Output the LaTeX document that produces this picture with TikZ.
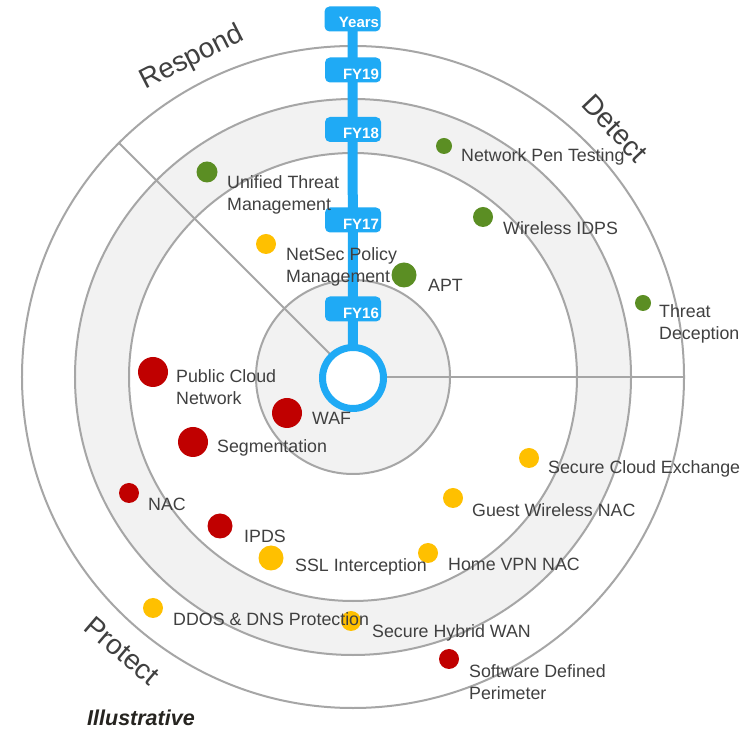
\documentclass[tikz,border=0pt]{standalone}
\usepackage{fontspec}
\setmainfont{Liberation Sans}
\usetikzlibrary{calc}
\definecolor{ringgray}{HTML}{A6A6A6}
\definecolor{bandgray}{HTML}{F2F2F2}
\definecolor{txtgray}{HTML}{404040}
\definecolor{yearblue}{HTML}{1FAAF5}
\definecolor{dotgreen}{HTML}{5B8E23}
\definecolor{dotred}{HTML}{C00000}
\definecolor{dotyellow}{HTML}{FFC000}
\definecolor{notecolor}{HTML}{262420}
\pgfdeclarelayer{rings}
\pgfdeclarelayer{items}
\pgfsetlayers{rings,main,items}
\begin{document}
\begin{tikzpicture}[x=1bp,y=1bp,
  ring/.style={draw=ringgray, line width=2bp},
  dot/.style 2 args={circle, fill=#1, inner sep=0pt, minimum size=#2},
  lbl/.style={anchor=west, inner sep=0pt, text=txtgray, align=left,
    font=\fontsize{17.8bp}{22bp}\selectfont},
  sector/.style={inner sep=0pt, text=txtgray, font=\fontsize{28bp}{32bp}\selectfont},
  pill/.style={rounded corners=5bp, fill=yearblue, minimum width=56bp,
    minimum height=25bp, inner sep=0pt},
  pilltext/.style={inner sep=0pt, text=white, font=\bfseries\fontsize{15bp}{18bp}\selectfont}
]
\useasboundingbox (0,0) rectangle (753,731);

\begin{pgfonlayer}{rings}
\fill[white] (0,0) rectangle (753,731);
% centre of the rings
\coordinate (c) at (353,354);
% shaded bands
\fill[bandgray] (c) circle[radius=97bp];
\fill[bandgray, even odd rule] (c) circle[radius=278bp] (c) circle[radius=224bp];
% ring outlines
\draw[ring] (c) circle[radius=97bp];
\draw[ring] (c) circle[radius=224bp];
\draw[ring] (c) circle[radius=278bp];
\draw[ring] (c) circle[radius=331bp];
% sector dividers
\coordinate (divnw) at ($(c)+(135:331bp)$);
\coordinate (dive) at ($(c)+(0:331bp)$);
\draw[ring] (c) -- (divnw);
\draw[ring] (c) -- (dive);
% sector titles
\node[sector, rotate=27] (respond) at (192,673) {Respond};
\node[sector, rotate=-46.5] (detect) at (615,603) {Detect};
\node[sector, rotate=-40.5] (protect) at (122,80) {Protect};
\end{pgfonlayer}

\begin{pgfonlayer}{items}
% year axis
\node[pill] (years) at (352.5,712) {};
\node[pill] (fy19) at (353,661) {};
\node[pill] (fy18) at (353,601.5) {};
\node[pill] (fy17) at (353,511) {};
\node[pill] (fy16) at (353,422) {};
\node[circle, draw=yearblue, line width=7bp, fill=white, minimum size=61bp,
  inner sep=0pt] (hub) at (353,353) {};
\node[pilltext] (t-years) at ([xshift=6.5bp,yshift=-3.5bp]years.center) {Years};
\node[pilltext] (t-fy19) at ([xshift=8bp,yshift=-4bp]fy19.center) {FY19};
\node[pilltext] (t-fy18) at ([xshift=8bp,yshift=-4bp]fy18.center) {FY18};
\node[pilltext] (t-fy17) at ([xshift=8bp,yshift=-4bp]fy17.center) {FY17};
\node[pilltext] (t-fy16) at ([xshift=8bp,yshift=-4bp]fy16.center) {FY16};

% detect items
\node[dot={dotgreen}{16bp}] (npt) at (444,585) {};
\node[dot={dotgreen}{20bp}] (widps) at (483,514) {};
\node[dot={dotgreen}{25bp}] (apt) at (404,456) {};
\node[dot={dotgreen}{16bp}] (tdec) at (643,428) {};
\node[dot={dotgreen}{21bp}] (utm) at (207,559) {};

% respond / protect items
\node[dot={dotyellow}{20bp}] (netsec) at (266,487) {};
\node[dot={dotyellow}{20bp}] (sce) at (529,273) {};
\node[dot={dotyellow}{20bp}] (gwn) at (453,233) {};
\node[dot={dotyellow}{20bp}] (hvpn) at (428,178) {};
\node[dot={dotyellow}{25bp}] (ssl) at (271,173) {};
\node[dot={dotyellow}{20bp}] (ddos) at (153,123) {};
\node[dot={dotyellow}{20bp}] (shw) at (351,110) {};
\node[dot={dotred}{30bp}] (pcn) at (153,359) {};
\node[dot={dotred}{30bp}] (waf) at (287,318) {};
\node[dot={dotred}{30bp}] (seg) at (193,289) {};
\node[dot={dotred}{20bp}] (nac) at (129,238) {};
\node[dot={dotred}{25bp}] (ipds) at (220,205) {};
\node[dot={dotred}{20bp}] (sdp) at (449,72) {};

% item labels
\node[lbl] (l-npt) at (461,574) {Network Pen Testing};
\node[lbl] (l-widps) at (503,503) {Wireless IDPS};
\node[lbl] (l-apt) at (428,446) {APT};
\node[lbl] (l-tdec) at (659,407) {Threat\\Deception};
\node[lbl] (l-utm) at (227,536) {Unified Threat\\Management};
\node[lbl] (l-netsec) at (286,464) {NetSec Policy\\Management};
\node[lbl] (l-sce) at (548,262) {Secure Cloud Exchange};
\node[lbl] (l-gwn) at (472,221) {Guest Wireless NAC};
\node[lbl] (l-hvpn) at (448,167) {Home VPN NAC};
\node[lbl] (l-ssl) at (295,164) {SSL Interception};
\node[lbl] (l-ddos) at (173,112) {DDOS \& DNS Protection};
\node[lbl] (l-shw) at (372,98) {Secure Hybrid WAN};
\node[lbl] (l-pcn) at (176,344) {Public Cloud\\Network};
\node[lbl] (l-waf) at (312,313) {WAF};
\node[lbl] (l-seg) at (217,283) {Segmentation};
\node[lbl] (l-nac) at (148,227) {NAC};
\node[lbl] (l-ipds) at (244,195) {IPDS};
\node[lbl] (l-sdp) at (469,49) {Software Defined\\Perimeter};

% footnote
\node[anchor=west, inner sep=0pt, text=notecolor,
  font=\bfseries\itshape\fontsize{21.5bp}{24bp}\selectfont] (illus) at (87,13) {Illustrative};
\end{pgfonlayer}

% the time axis runs from the top pill down into the hub
\draw[yearblue, line width=10bp] (years.center) -- (hub.center);
\end{tikzpicture}
\end{document}
